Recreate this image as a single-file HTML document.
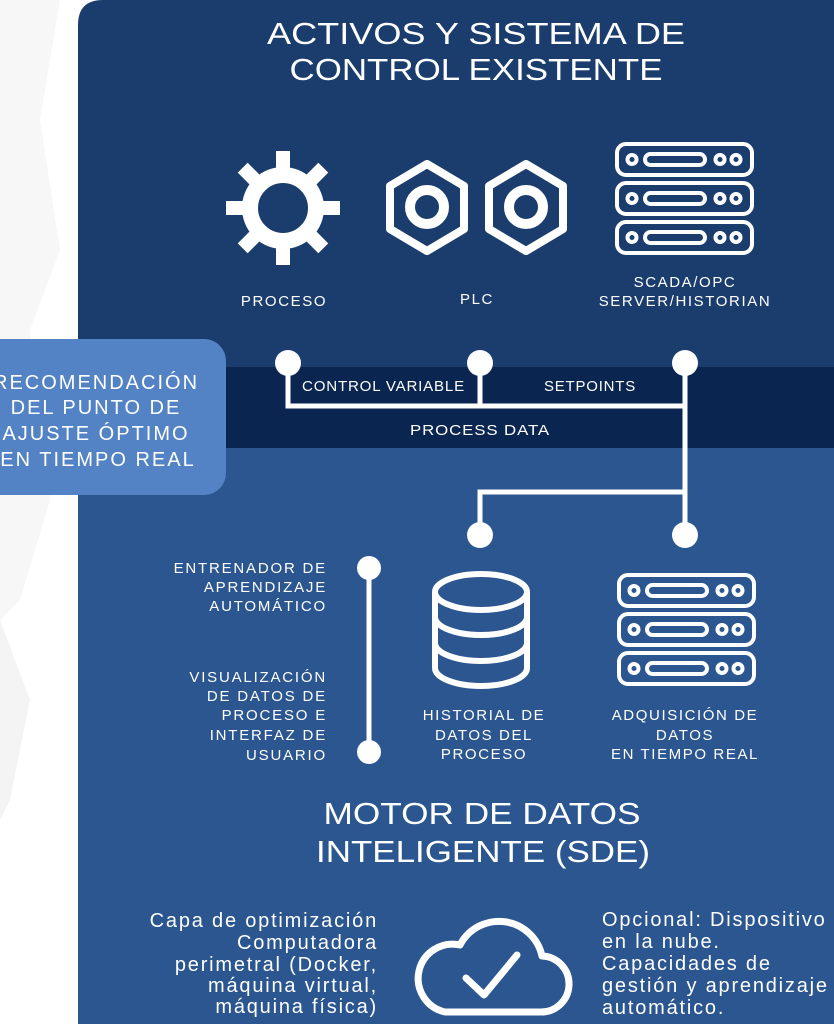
<!DOCTYPE html>
<html><head><meta charset="utf-8"><style>
html,body{margin:0;padding:0;background:#fff}
svg{display:block}
text{font-family:"Liberation Sans","DejaVu Sans",sans-serif;fill:#fff}
</style></head><body>
<svg width="834" height="1024" viewBox="0 0 834 1024" xmlns="http://www.w3.org/2000/svg">
<rect width="834" height="1024" fill="#ffffff"/>
<path d="M0 0 L60 0 L40 120 L60 250 L30 330 L50 500 L20 600 L0 620 Z" fill="#f7f7f7"/>
<path d="M0 620 L30 700 L10 800 L0 820 Z" fill="#f4f4f4"/>
<path d="M78 1024 L78 25 Q78 0 103 0 L834 0 L834 1024 Z" fill="#1b3d6e"/>
<rect x="78" y="367" width="756" height="81" fill="#0a2550"/>
<rect x="78" y="448" width="756" height="576" fill="#2b5690"/>
<rect x="-30" y="339" width="256" height="156" rx="22" fill="#5383c4"/>
<g font-size="20" text-anchor="middle" letter-spacing="2">
<text x="96" y="389">RECOMENDACIÓN</text>
<text x="96" y="414">DEL PUNTO DE</text>
<text x="96" y="440">AJUSTE ÓPTIMO</text>
<text x="98" y="466">EN TIEMPO REAL</text>
</g>
<g font-size="31" text-anchor="middle">
<text x="476" y="44" textLength="418" lengthAdjust="spacingAndGlyphs">ACTIVOS Y SISTEMA DE</text>
<text x="476" y="80" textLength="373" lengthAdjust="spacingAndGlyphs">CONTROL EXISTENTE</text>
<text x="482" y="824" textLength="317" lengthAdjust="spacingAndGlyphs">MOTOR DE DATOS</text>
<text x="483" y="862" textLength="334" lengthAdjust="spacingAndGlyphs">INTELIGENTE (SDE)</text>
</g>
<g fill="#fff" transform="translate(283,208)">
<g><rect x="-7" y="-57" width="14" height="22"/><rect x="-7" y="35" width="14" height="22"/><rect x="-57" y="-7" width="22" height="14"/><rect x="35" y="-7" width="22" height="14"/></g>
<g transform="rotate(45)"><rect x="-7" y="-57" width="14" height="22"/><rect x="-7" y="35" width="14" height="22"/><rect x="-57" y="-7" width="22" height="14"/><rect x="35" y="-7" width="22" height="14"/></g>
<circle r="33" fill="none" stroke="#fff" stroke-width="16"/>
</g>
<g fill="none" stroke="#fff">
<polygon points="427,164 464,186 464,229 427,251 390,229 390,186" stroke-width="8" stroke-linejoin="round"/>
<circle cx="427" cy="207" r="17" stroke-width="10"/>
<polygon points="526,164 563,186 563,229 526,251 489,229 489,186" stroke-width="8" stroke-linejoin="round"/>
<circle cx="526" cy="207" r="17" stroke-width="10"/>
</g>
<g id="srv" fill="none" stroke="#fff" stroke-width="4">
<rect x="617" y="144" width="135" height="31" rx="9"/>
<circle cx="632" cy="159.5" r="4.5"/><rect x="645" y="154" width="60" height="11" rx="5.5"/><circle cx="720" cy="159.5" r="4.5"/><circle cx="736" cy="159.5" r="4.5"/>
<rect x="617" y="183" width="135" height="31" rx="9"/>
<circle cx="632" cy="198.5" r="4.5"/><rect x="645" y="193" width="60" height="11" rx="5.5"/><circle cx="720" cy="198.5" r="4.5"/><circle cx="736" cy="198.5" r="4.5"/>
<rect x="617" y="222" width="135" height="31" rx="9"/>
<circle cx="632" cy="237.5" r="4.5"/><rect x="645" y="232" width="60" height="11" rx="5.5"/><circle cx="720" cy="237.5" r="4.5"/><circle cx="736" cy="237.5" r="4.5"/>
</g>
<use href="#srv" transform="translate(2,431)"/>
<g font-size="15" text-anchor="middle" letter-spacing="1.6">
<text x="284" y="306">PROCESO</text>
<text x="477" y="304">PLC</text>
<text x="685" y="287">SCADA/OPC</text>
<text x="685" y="306">SERVER/HISTORIAN</text>
</g>
<g stroke="#fff" stroke-width="5" fill="none">
<polyline points="288,363 288,406 685,406"/>
<line x1="480" y1="363" x2="480" y2="406"/>
<line x1="685" y1="363" x2="685" y2="535"/>
<polyline points="685,492 480,492 480,535"/>
<line x1="369" y1="568" x2="369" y2="752"/>
</g>
<g fill="#fff">
<circle cx="288" cy="363" r="13"/><circle cx="480" cy="363" r="13"/><circle cx="685" cy="363" r="13"/>
<circle cx="480" cy="535" r="13"/><circle cx="685" cy="535" r="13"/>
<circle cx="369" cy="568" r="12"/><circle cx="369" cy="752" r="12"/>
</g>
<g font-size="15" letter-spacing="0.8">
<text x="302" y="391" textLength="163" lengthAdjust="spacingAndGlyphs">CONTROL VARIABLE</text>
<text x="544" y="391" textLength="92" lengthAdjust="spacingAndGlyphs">SETPOINTS</text>
<text x="410" y="435" textLength="140" lengthAdjust="spacingAndGlyphs">PROCESS DATA</text>
</g>
<g fill="none" stroke="#fff" stroke-width="6">
<ellipse cx="481" cy="592" rx="46" ry="18"/>
<path d="M435 592 V668 A46 18 0 0 0 527 668 V592"/>
<path d="M435 617 A46 18 0 0 0 527 617"/>
<path d="M435 643 A46 18 0 0 0 527 643"/>
</g>
<g font-size="15" text-anchor="end" letter-spacing="1.8">
<text x="327" y="573">ENTRENADOR DE</text>
<text x="327" y="592">APRENDIZAJE</text>
<text x="327" y="611">AUTOMÁTICO</text>
<text x="327" y="682">VISUALIZACIÓN</text>
<text x="327" y="701">DE DATOS DE</text>
<text x="327" y="720">PROCESO E</text>
<text x="327" y="740">INTERFAZ DE</text>
<text x="327" y="760">USUARIO</text>
</g>
<g font-size="15" text-anchor="middle" letter-spacing="1.6">
<text x="484" y="720">HISTORIAL DE</text>
<text x="484" y="740">DATOS DEL</text>
<text x="484" y="759">PROCESO</text>
<text x="685" y="720">ADQUISICIÓN DE</text>
<text x="685" y="740">DATOS</text>
<text x="685" y="759">EN TIEMPO REAL</text>
</g>
<g fill="none" stroke="#fff" stroke-width="7" stroke-linejoin="round" stroke-linecap="round">
<path d="M445 1012 H540 A28 28 0 0 0 542 956 A44 44 0 0 0 460 945 A34 34 0 0 0 445 1012 Z"/>
<polyline points="466,978 484,995 517,955"/>
</g>
<g font-size="20" text-anchor="end" letter-spacing="1.8">
<text x="378" y="927">Capa de optimización</text>
<text x="378" y="949">Computadora</text>
<text x="378" y="971">perimetral (Docker,</text>
<text x="378" y="992">máquina virtual,</text>
<text x="378" y="1013">máquina física)</text>
</g>
<g font-size="20" letter-spacing="1.8">
<text x="602" y="926">Opcional: Dispositivo</text>
<text x="602" y="948">en la nube.</text>
<text x="602" y="970">Capacidades de</text>
<text x="602" y="992">gestión y aprendizaje</text>
<text x="602" y="1014">automático.</text>
</g>
</svg>
</body></html>
